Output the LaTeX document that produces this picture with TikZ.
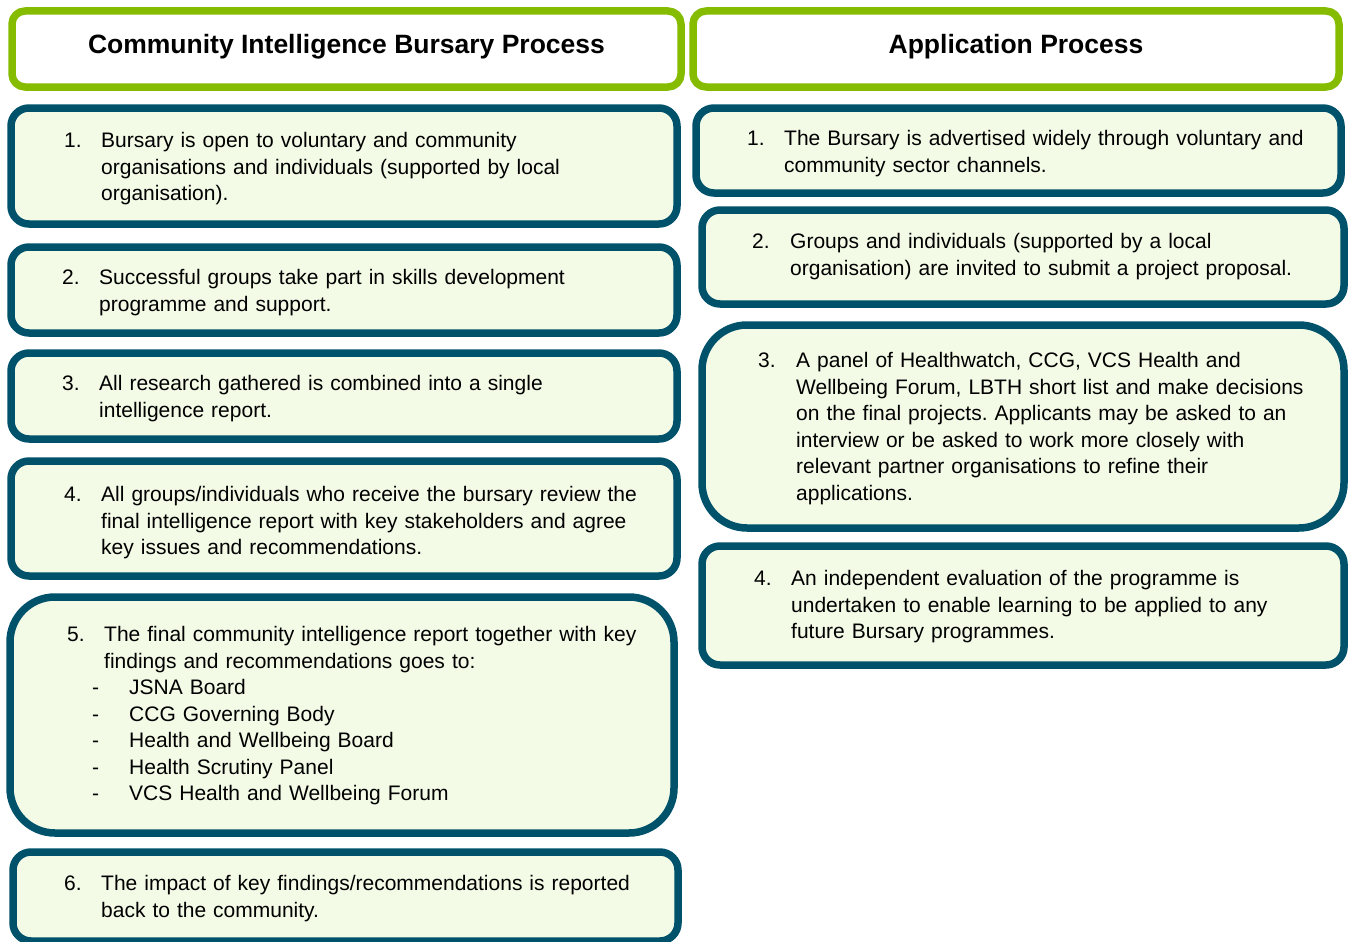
\documentclass[tikz,border=0pt]{standalone}
\usepackage{fontspec}
\setmainfont{Liberation Sans}
\frenchspacing
\definecolor{stepline}{RGB}{0,82,107}
\definecolor{headline}{RGB}{133,188,0}
\definecolor{stepfill}{RGB}{243,250,230}
% dash entry inside a numbered item
\newcommand\dashline[1]{\makebox[0pt][l]{\hspace*{-12pt}-}\hspace*{25pt}#1}

\begin{document}
\begin{tikzpicture}[x=1pt,y=-1pt,line join=round,
	headbox/.style={draw=headline,line width=7.5pt,fill=white,rounded corners=13pt},
	stepbox/.style={draw=stepline,line width=7.5pt,fill=stepfill,rounded corners=18pt},
	bigbox/.style={stepbox,rounded corners=45pt},
	title/.style={font=\fontsize{26.5}{30}\selectfont\bfseries,anchor=base,inner sep=0pt},
	num/.style={font=\fontsize{21}{26.5}\selectfont,anchor=base west,inner sep=0pt},
	txt/.style={num,text width=600pt,align=left}]
	\useasboundingbox (0,0) rectangle (1349,942);
	\clip (0,0) rectangle (1349,942);
	% headers
	\draw[headbox] (12,11) rectangle (681,87);
	\draw[headbox] (693,11) rectangle (1339,87);
	\node[title] (headL) at (346.5,53) {Community Intelligence Bursary Process};
	\node[title] (headR) at (1016,53) {Application Process};
	% step boxes
	\foreach \xa/\ya/\xb/\yb in {11/108/677/224,11/247/677/333,11/353/677/439,11/461/677/576,13/852/678/941,
		696/108/1341/193,702/210/1344/304,702/546/1344/665}
	\draw[stepbox] (\xa,\ya) rectangle (\xb,\yb);
	\draw[bigbox] (10,597) rectangle (674,833);
	\draw[bigbox] (702,325) rectangle (1344,528);
	% numbers
	\foreach \n/\x/\y in {1/64/147.5,2/62/284.5,3/62/390.5,4/64/501.5,5/67/641.5,6/64/890.5}
	\node[num] (l\n) at (\x,\y) {\n.};
	\foreach \n/\x/\y in {1/747/145.5,2/752/248.5,3/758/367.5,4/754/585.5}
	\node[num] (r\n) at (\x,\y) {\n.};
	% left column
	\node[txt] (l1t) at (101,147.5) {Bursary is open to voluntary and community\\organisations and individuals (supported by local\\organisation).};
	\node[txt] (l2t) at (99,284.5) {Successful groups take part in skills development\\programme and support.};
	\node[txt] (l3t) at (99,390.5) {All research gathered is combined into a single\\intelligence report.};
	\node[txt] (l4t) at (101,501.5) {All groups/individuals who receive the bursary review the\\final intelligence report with key stakeholders and agree\\key issues and recommendations.};
	\node[txt] (l5t) at (104,641.5) {The final community intelligence report together with key\\findings and recommendations goes to:\\
		\dashline{JSNA Board}\\
		\dashline{CCG Governing Body}\\
		\dashline{Health and Wellbeing Board}\\
		\dashline{Health Scrutiny Panel}\\
		\dashline{VCS Health and Wellbeing Forum}};
	\node[txt] (l6t) at (101,890.5) {The impact of key findings/recommendations is reported\\back to the community.};
	% right column
	\node[txt] (r1t) at (784,145.5) {The Bursary is advertised widely through voluntary and\\community sector channels.};
	\node[txt] (r2t) at (790,248.5) {Groups and individuals (supported by a local\\organisation) are invited to submit a project proposal.};
	\node[txt] (r3t) at (796,367.5) {A panel of Healthwatch, CCG, VCS Health and\\Wellbeing Forum, LBTH short list and make decisions\\on the final projects. Applicants may be asked to an\\interview or be asked to work more closely with\\relevant partner organisations to refine their\\applications.};
	\node[txt] (r4t) at (791,585.5) {An independent evaluation of the programme is\\undertaken to enable learning to be applied to any\\future Bursary programmes.};
\end{tikzpicture}
\end{document}
